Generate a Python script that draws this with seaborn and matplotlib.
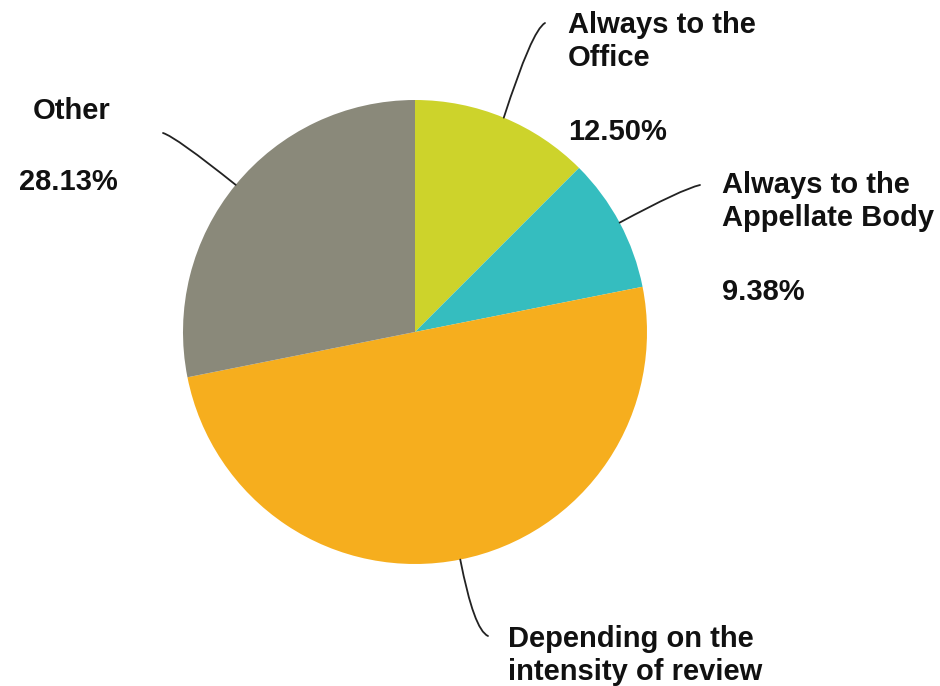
import numpy as np
import matplotlib
matplotlib.use("Agg")
import matplotlib.pyplot as plt
from matplotlib.path import Path
from matplotlib.patches import PathPatch
import seaborn as sns

# Shares of responses, clockwise from 12 o'clock
categories = ["Always to the\nOffice", "Always to the\nAppellate Body",
              "Depending on the\nintensity of review", "Other"]
values = [12.50, 9.38, 50.00, 28.13]
pct_labels = ["12.50%", "9.38%", None, "28.13%"]
colors = ["#CDD32B", "#35BDBF", "#F6AE1E", "#8A897A"]

sns.set_theme(style="white")
plt.rcParams["font.family"] = ["Liberation Sans", "DejaVu Sans"]

W, H = 940, 686
fig = plt.figure(figsize=(W / 100, H / 100), dpi=100)
ax = fig.add_axes([0, 0, 1, 1])

cx, cy, R = 415, H - 332, 232
wedges, _ = ax.pie(values, colors=colors, startangle=90, counterclock=False,
                   center=(cx, cy), radius=R, frame=True,
                   wedgeprops=dict(linewidth=0))
ax.set_xlim(0, W)
ax.set_ylim(0, H)
ax.set_aspect("equal")
ax.axis("off")

# label layout (top-down pixel offsets): text anchor, baselines, leader bend and end
layout = [
    dict(x=568, y=33, py=140, ctrl=(532, 30), end=(545, 23), ha="left"),
    dict(x=722, y=193, py=300, ctrl=(682, 189), end=(700, 185), ha="left"),
    dict(x=508, y=647, py=None, ctrl=(474, 630), end=(488, 636), ha="left"),
    dict(x=72, y=119, py=190, ctrl=(176, 137), end=(163, 133), ha="center"),
]

fs = 21
for w, name, pct, lay in zip(wedges, categories, pct_labels, layout):
    mid = np.deg2rad((w.theta1 + w.theta2) / 2)
    px, py = cx + R * np.cos(mid), cy + R * np.sin(mid)
    (qx, qy), (ex, ey) = lay["ctrl"], lay["end"]
    leader = Path([(px, py), (qx, H - qy), (ex, H - ey)],
                  [Path.MOVETO, Path.CURVE3, Path.CURVE3])
    ax.add_patch(PathPatch(leader, facecolor="none", edgecolor="#222222",
                           lw=1.3, capstyle="round"))
    for i, line in enumerate(name.split("\n")):
        ax.text(lay["x"], H - (lay["y"] + i * 33), line, ha=lay["ha"],
                va="baseline", fontsize=fs, fontweight="bold", color="#111111")
    if pct is not None:
        ax.text(lay["x"] - (4 if lay["ha"] == "center" else 0), H - lay["py"], pct,
                ha=lay["ha"], va="baseline", fontsize=fs, fontweight="bold",
                color="#111111")

fig.savefig("out.png", dpi=100, facecolor="white")
